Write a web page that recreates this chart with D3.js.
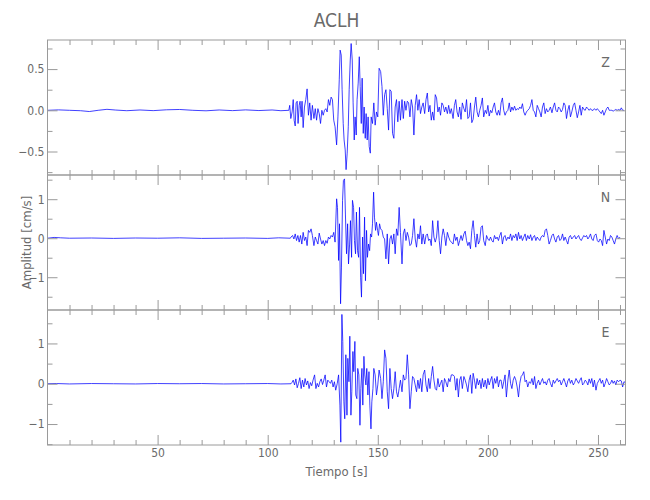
<!DOCTYPE html>
<html><head><meta charset="utf-8">
<script src="https://cdn.jsdelivr.net/npm/d3@7"></script>
<style>
body{margin:0;background:#fff;}
svg text{font-family:"Liberation Sans Narrow","DejaVu Sans Condensed","Liberation Sans",sans-serif;fill:#6a6a6a;}
</style></head><body>
<svg id="chart" width="650" height="500"></svg>
<script>
const title = "ACLH";
const xLabel = "Tiempo [s]";
const yLabel = "Amplitud [cm/s]";
const components = ["Z", "N", "E"];
const xDomain = [0, 262.5];
const xMajorTicks = [50, 100, 150, 200, 250];
const xMinorTicks = [10, 20, 30, 40, 60, 70, 80, 90, 110, 120, 130, 140, 160, 170, 180, 190, 210, 220, 230, 240, 260];
const yDomains = [[-0.785, 0.853], [-1.84, 1.62], [-1.52, 1.83]];
const yMajorTicks = [[-0.5, 0, 0.5], [-1, 0, 1], [-1, 0, 1]];
const yMajorLabels = [["\u22120.5", "0.0", "0.5"], ["\u22121", "0", "1"], ["\u22121", "0", "1"]];
const yMinorTicks = [[-0.75, -0.25, 0.25, 0.75], [-1.5, -0.5, 0.5, 1.5], [-1.5, -0.5, 0.5, 1.5]];

// Z component: [time s, amplitude cm/s]
const traceZ = [
[0,0],[5,0.005],[10,0],[15,-0.005],[19,-0.015],[23,0],[27,0.012],[31,0.003],[36,-0.005],[42,0.004],[48,-0.004],[54,0.006],[60,0.01],[66,0],[72,-0.006],[78,0.004],[84,-0.004],[90,0.005],[96,-0.003],[102,0.004],[106,-0.005],[109.6,0],
[110.0,0.06],[110.5,-0.10],[111.1,-0.02],[111.6,0.13],[112.0,-0.12],[112.5,-0.19],[112.9,0.09],[113.4,0.11],[113.8,-0.16],[114.3,0.06],[114.7,0.11],[115.2,-0.08],[115.6,0.11],[116.1,-0.21],[116.7,0.04],[117.3,0.13],[117.9,0.26],[118.5,-0.06],[119.1,0.09],[119.7,-0.12],[120.3,0.06],[121.0,-0.10],[121.6,0.02],[122.2,-0.12],[122.8,0.02],[123.4,-0.04],[124.0,-0.16],[124.6,0.00],[125.2,-0.06],[125.8,0.00],[126.4,0.02],[127.0,-0.02],[127.6,0.13],[128.2,0.06],[128.8,0.16],[129.4,0.13],[130.0,-0.12],[130.6,-0.20],[131.3,-0.42],[131.9,-0.08],[132.5,0.37],[132.9,0.73],[133.4,0.67],[133.8,0.25],[134.3,-0.16],[134.7,-0.36],[135.2,-0.48],[135.6,-0.72],[136.1,-0.52],[136.6,-0.20],[137.0,0.25],[137.5,0.61],[137.9,0.81],[138.4,0.61],[138.8,0.09],[139.3,-0.36],[139.7,-0.08],[140.2,-0.30],[140.6,0.13],[141.1,0.33],[141.6,0.65],[142.0,0.29],[142.5,-0.16],[142.9,0.39],[143.4,-0.28],[143.8,0.04],[144.3,-0.34],[144.7,-0.04],[145.2,-0.36],[145.6,-0.08],[146.1,-0.44],[146.6,-0.52],[147.0,-0.08],[147.6,-0.16],[148.2,0.09],[148.8,-0.18],[149.4,-0.02],[150.0,-0.08],[150.6,0.51],[151.3,0.47],[151.9,0.29],[152.5,-0.06],[153.1,0.19],[153.7,0.25],[154.3,0.02],[154.9,-0.24],[155.5,0.25],[156.1,0.23],[156.7,-0.28],[157.3,-0.34],[157.9,0.04],[158.5,0.13],[159.1,-0.14],[159.7,0.11],[160.3,-0.12],[161.0,0.13],[161.6,-0.10],[162.2,0.11],[162.8,0.00],[163.4,0.11],[164.0,0.09],[164.6,-0.08],[165.2,0.13],[165.8,0.04],[166.4,-0.30],[167.0,0.06],[167.6,0.19],[168.2,0.00],[168.8,0.13],[169.4,-0.04],[170.0,0.04],[170.6,0.09],[171.3,-0.04],[171.9,0.13],[172.5,0.21],[173.1,-0.02],[173.7,0.06],[174.3,-0.12],[174.9,-0.02],[175.5,-0.12],[176.1,0.19],[176.7,0.15],[177.3,-0.02],[177.9,0.04],[178.5,-0.06],[179.1,0.09],[179.7,0.06],[180.3,-0.02],[180.9,0.04],[181.6,-0.04],[182.2,0.06],[182.8,-0.04],[183.4,0.02],
[184.2,-0.10],[184.8,0.06],[185.4,0.13],[186.0,-0.02],[186.6,-0.08],[187.2,0.04],[187.8,-0.11],[188.4,0.09],[189.1,0.02],[189.7,-0.02],[190.3,0.13],[190.9,-0.10],[191.5,-0.08],[192.1,0.09],[192.7,-0.15],[193.3,-0.11],[193.9,0.04],[194.5,0.16],[195.1,-0.02],[195.7,-0.08],[196.3,0.00],[196.9,0.06],[197.5,0.15],[198.1,-0.08],[198.8,0.00],[199.4,-0.04],[200.0,0.06],[200.6,-0.07],[201.2,0.00],[201.8,-0.03],[202.4,0.04],[203.0,0.09],[203.6,-0.02],[204.2,-0.06],[204.8,0.00],[205.4,-0.06],[206.0,0.09],[206.6,0.15],[207.2,0.00],[207.8,-0.06],[208.4,-0.02],[209.1,0.00],[209.7,0.09],[210.3,-0.02],[210.9,0.04],[211.5,0.00],[212.1,0.05],[212.7,0.00],[213.3,0.02],[213.9,0.01],[214.5,0.04],[215.1,0.02],[215.7,0.08],[216.3,-0.02],[216.9,-0.06],[217.5,-0.02],[218.1,0.00],[218.8,0.02],[219.4,0.06],[220.0,0.13],[220.6,0.00],[221.2,-0.02],[221.8,-0.08],[222.4,0.06],[223.0,0.02],[223.6,-0.02],[224.2,-0.08],[224.8,0.04],[225.4,0.09],[226.0,-0.04],[226.6,0.02],[227.2,-0.02],[227.8,0.00],[228.4,0.04],[229.1,-0.03],[229.7,0.04],[230.3,0.09],[230.9,0.00],[231.5,-0.02],[232.1,0.04],[232.7,0.02],[233.3,-0.02],[233.9,0.01],[234.5,0.09],[235.1,0.06],[235.7,-0.10],[236.3,0.00],[236.9,0.06],[237.5,-0.08],[238.1,-0.02],[238.8,0.06],[239.4,0.09],[240.0,0.00],[240.6,-0.09],[241.2,-0.02],[241.8,0.06],[242.4,-0.06],[243.0,0.04],[243.6,0.01],[244.2,0.00],[244.8,0.04],[245.4,0.02],[246.0,0.00],[246.6,0.02],[247.2,0.00],[247.8,0.00],[248.4,0.02],[249.1,0.00],[249.7,0.02],[250.3,0.00],[250.9,-0.02],[251.5,-0.04],[252.1,0.00],[252.7,-0.06],[253.3,-0.02],[253.9,0.02],[254.5,0.04],[255.1,0.00],[255.7,0.00],[256.3,0.00],[256.9,-0.01],[257.5,0.00],[258.1,0.01],[258.7,0.00],[259.4,0.01],[260.0,0.00],[260.6,0.03],[261.2,0.00],[261.8,0.00]
];

// N component
const traceN = [
[0,0],[3,0.02],[6,0.01],[10,0],[20,0.005],[30,-0.005],[40,0.005],[50,0],[60,0.01],[70,-0.005],[80,0],[90,0.005],[100,-0.005],[105,0.01],[110.3,0],
[110.6,0.03],[111.3,0.07],[111.9,-0.02],[112.5,0.11],[113.1,-0.06],[113.7,0.07],[114.3,-0.10],[114.9,0.07],[115.5,-0.15],[116.1,0.15],[116.7,-0.06],[117.3,0.03],[117.9,-0.19],[118.5,0.20],[119.1,0.15],[119.7,0.24],[120.3,0.07],[121.0,-0.19],[121.6,0.03],[122.2,-0.06],[122.8,-0.15],[123.4,0.13],[124.0,-0.02],[124.6,-0.15],[125.2,-0.06],[125.8,-0.19],[126.4,-0.06],[127.0,-0.13],[127.6,0.03],[128.2,-0.02],[128.8,0.07],[129.4,0.03],[130.0,0.15],[130.6,-0.10],[131.3,1.01],[131.7,0.79],[132.2,-0.57],[132.6,0.37],[133.1,-1.68],[133.5,-0.74],[134.0,0.97],[134.4,1.48],[134.9,1.52],[135.3,0.62],[135.8,-0.40],[136.3,0.37],[136.7,-0.66],[137.2,-0.15],[137.6,0.45],[138.1,-0.49],[138.5,0.97],[139.0,0.79],[139.4,-0.06],[139.9,-0.40],[140.3,0.67],[140.8,-0.32],[141.3,-0.49],[141.7,0.79],[142.2,-1.00],[142.6,-1.51],[143.1,0.03],[143.5,-0.91],[144.0,0.54],[144.4,-1.09],[144.9,0.20],[145.3,-0.49],[145.8,-0.15],[146.3,-0.32],[146.7,0.11],[147.2,0.03],[147.6,0.37],[148.1,1.18],[148.5,0.54],[149.0,0.20],[149.4,0.41],[149.9,0.20],[150.3,0.07],[150.8,0.37],[151.3,0.24],[151.9,0.20],[152.5,0.03],[153.1,-0.02],[153.7,-0.53],[154.3,0.11],[154.9,-0.66],[155.5,-0.02],[156.1,0.07],[156.7,-0.15],[157.3,0.11],[157.9,-0.40],[158.5,0.24],[159.1,0.07],[159.7,0.79],[160.3,0.15],[161.0,-0.66],[161.6,0.11],[162.2,0.24],[162.8,-0.06],[163.4,0.15],[164.0,0.03],[164.6,-0.19],[165.2,-0.15],[165.8,0.07],[166.4,0.50],[167.0,-0.02],[167.6,-0.23],[168.2,0.11],[168.8,-0.02],[169.4,0.32],[170.0,-0.15],[170.6,0.11],[171.3,-0.15],[171.9,0.07],[172.5,0.11],[173.1,-0.06],[173.7,-0.02],[174.3,-0.19],[174.9,0.45],[175.5,0.03],[176.1,-0.10],[176.7,0.03],[177.3,0.45],[177.9,-0.06],[178.5,-0.40],[179.1,0.03],[179.7,0.24],[180.3,0.07],[180.9,-0.19],[181.6,0.15],[182.2,0.03],[182.8,-0.06],[183.4,-0.10],
[184.2,-0.15],[184.8,0.11],[185.4,-0.06],[186.0,0.03],[186.6,-0.19],[187.2,-0.06],[187.8,0.07],[188.4,-0.06],[189.1,0.11],[189.7,0.18],[190.3,-0.06],[190.9,-0.19],[191.5,-0.10],[192.1,-0.27],[192.7,0.20],[193.3,0.45],[193.9,0.07],[194.5,-0.23],[195.1,0.11],[195.7,-0.15],[196.3,-0.06],[196.9,0.28],[197.5,0.32],[198.1,-0.06],[198.8,-0.19],[199.4,0.07],[200.0,-0.02],[200.6,-0.06],[201.2,0.03],[201.8,-0.06],[202.4,-0.10],[203.0,0.07],[203.6,-0.02],[204.2,0.03],[204.8,-0.06],[205.4,0.07],[206.0,0.15],[206.6,-0.15],[207.2,0.03],[207.8,0.07],[208.4,-0.06],[209.1,0.03],[209.7,-0.02],[210.3,0.11],[210.9,-0.06],[211.5,0.07],[212.1,0.01],[212.7,0.11],[213.3,-0.06],[213.9,0.15],[214.5,-0.02],[215.1,0.07],[215.7,-0.06],[216.3,0.03],[216.9,0.11],[217.5,-0.06],[218.1,0.07],[218.8,-0.02],[219.4,0.09],[220.0,-0.06],[220.6,0.03],[221.2,0.07],[221.8,-0.06],[222.4,0.03],[223.0,-0.02],[223.6,-0.06],[224.2,0.03],[224.8,0.07],[225.4,0.03],[226.0,0.20],[226.6,0.24],[227.2,0.07],[227.8,-0.15],[228.4,-0.06],[229.1,0.07],[229.7,0.11],[230.3,-0.02],[230.9,-0.10],[231.5,0.03],[232.1,0.07],[232.7,-0.06],[233.3,-0.02],[233.9,0.11],[234.5,-0.06],[235.1,0.03],[235.7,-0.06],[236.3,-0.15],[236.9,0.03],[237.5,0.07],[238.1,-0.02],[238.8,0.03],[239.4,0.07],[240.0,-0.02],[240.6,0.03],[241.2,0.07],[241.8,-0.02],[242.4,-0.06],[243.0,0.01],[243.6,0.07],[244.2,0.03],[244.8,0.07],[245.4,-0.02],[246.0,0.03],[246.6,0.11],[247.2,-0.02],[247.8,-0.06],[248.4,0.07],[249.1,0.11],[249.7,-0.06],[250.3,-0.10],[250.9,-0.02],[251.5,-0.06],[252.1,-0.19],[252.7,0.20],[253.3,0.03],[253.9,-0.15],[254.5,-0.02],[255.1,-0.06],[255.7,0.07],[256.3,0.03],[256.9,-0.06],[257.5,-0.15],[258.1,-0.02],[258.7,0.07],[259.4,-0.02],[260.0,0.03]
];

// E component
const traceE = [
[0,0],[4,0.005],[10,-0.005],[20,0.005],[30,0],[40,-0.005],[50,0.005],[60,0],[70,0.005],[80,-0.005],[90,0],[100,0.005],[106,-0.005],[110.6,0],
[111.0,0.03],[111.6,0.09],[112.2,-0.03],[112.8,0.12],[113.4,-0.10],[114.0,0.01],[114.6,0.15],[115.2,-0.12],[115.8,0.09],[116.4,-0.08],[117.0,0.13],[117.6,-0.03],[118.2,0.07],[118.8,-0.12],[119.4,0.03],[120.0,-0.05],[120.6,0.09],[121.3,0.22],[121.9,-0.12],[122.5,0.01],[123.1,-0.08],[123.7,0.05],[124.3,0.12],[124.9,-0.02],[125.5,0.09],[126.1,0.22],[126.7,-0.08],[127.3,0.09],[127.9,0.05],[128.5,0.01],[129.1,0.09],[129.7,-0.08],[130.3,0.05],[130.9,-0.16],[131.6,0.01],[132.2,0.22],[132.8,-0.53],[133.2,-1.45],[133.7,1.72],[134.1,1.05],[134.6,-0.45],[135.0,-0.87],[135.5,0.72],[136.0,-0.78],[136.4,0.63],[136.9,0.05],[137.3,1.18],[137.8,-0.78],[138.2,-0.20],[138.7,0.80],[139.1,0.30],[139.6,1.05],[140.0,-0.28],[140.5,-0.37],[140.9,0.38],[141.4,0.22],[141.9,-1.03],[142.3,-0.12],[142.8,0.38],[143.2,-0.53],[143.7,0.68],[144.1,0.22],[144.6,-0.03],[145.0,0.38],[145.5,-0.28],[146.0,0.30],[146.4,-0.53],[146.9,-1.12],[147.3,-0.45],[147.8,-0.12],[148.2,0.38],[148.8,0.22],[149.4,-0.28],[150.0,-0.03],[150.6,0.34],[151.3,0.13],[151.9,-0.37],[152.5,0.05],[153.1,0.84],[153.7,0.63],[154.3,-0.20],[154.9,-0.62],[155.5,0.38],[156.1,-0.12],[156.7,-0.37],[157.3,-0.12],[157.9,0.30],[158.5,-0.20],[159.1,-0.33],[159.7,-0.12],[160.3,0.09],[161.0,-0.20],[161.6,0.22],[162.2,0.09],[162.8,0.13],[163.4,0.72],[164.0,0.22],[164.6,-0.62],[165.2,-0.20],[165.8,0.18],[166.4,0.13],[167.0,-0.03],[167.6,-0.20],[168.2,0.09],[168.8,-0.12],[169.4,0.13],[170.0,-0.20],[170.6,0.22],[171.3,0.34],[171.9,-0.03],[172.5,-0.20],[173.1,0.13],[173.7,-0.12],[174.3,0.18],[174.9,0.43],[175.5,0.09],[176.1,-0.12],[176.7,-0.16],[177.3,0.13],[177.9,-0.08],[178.5,0.01],[179.1,0.09],[179.7,-0.20],[180.3,0.13],[180.9,0.05],[181.6,-0.08],[182.2,0.13],[182.8,0.05],[183.4,0.22],
[184.2,0.22],[184.8,0.18],[185.4,-0.16],[186.0,0.13],[186.6,-0.33],[187.2,0.09],[187.8,0.18],[188.4,-0.12],[189.1,0.18],[189.7,0.09],[190.3,-0.03],[190.9,-0.20],[191.5,0.09],[192.1,0.22],[192.7,-0.24],[193.3,0.26],[193.9,0.09],[194.5,-0.12],[195.1,0.13],[195.7,-0.03],[196.3,0.09],[196.9,-0.12],[197.5,0.13],[198.1,-0.08],[198.8,0.09],[199.4,-0.12],[200.0,0.13],[200.6,-0.03],[201.2,0.09],[201.8,0.18],[202.4,-0.12],[203.0,0.13],[203.6,0.01],[204.2,0.18],[204.8,-0.08],[205.4,0.09],[206.0,0.09],[206.6,-0.12],[207.2,0.05],[207.8,0.22],[208.4,-0.33],[209.1,0.09],[209.7,0.34],[210.3,0.01],[210.9,-0.12],[211.5,0.09],[212.1,0.18],[212.7,0.09],[213.3,-0.08],[213.9,-0.33],[214.5,0.01],[215.1,0.18],[215.7,0.22],[216.3,0.30],[216.9,0.05],[217.5,0.09],[218.1,-0.08],[218.8,0.05],[219.4,0.01],[220.0,0.13],[220.6,-0.03],[221.2,0.18],[221.8,-0.12],[222.4,0.01],[223.0,0.09],[223.6,-0.03],[224.2,0.05],[224.8,0.13],[225.4,0.01],[226.0,0.05],[226.6,-0.03],[227.2,0.09],[227.8,0.13],[228.4,0.01],[229.1,-0.08],[229.7,0.09],[230.3,0.01],[230.9,0.07],[231.5,0.13],[232.1,0.05],[232.7,0.09],[233.3,-0.03],[233.9,0.05],[234.5,0.13],[235.1,0.03],[235.7,-0.08],[236.3,0.07],[236.9,0.13],[237.5,0.01],[238.1,0.09],[238.8,-0.03],[239.4,0.03],[240.0,0.13],[240.6,0.07],[241.2,0.01],[241.8,0.09],[242.4,0.15],[243.0,-0.03],[243.6,0.01],[244.2,0.09],[244.8,0.05],[245.4,-0.03],[246.0,0.12],[246.6,0.01],[247.2,0.13],[247.8,-0.08],[248.4,0.09],[249.1,-0.16],[249.7,0.01],[250.3,0.07],[250.9,0.13],[251.5,0.01],[252.1,0.09],[252.7,-0.08],[253.3,0.01],[253.9,0.13],[254.5,0.05],[255.1,-0.03],[255.7,0.01],[256.3,0.09],[256.9,0.01],[257.5,0.07],[258.1,-0.03],[258.7,0.09],[259.4,0.05],[260.0,0.09],[260.6,0.07],[261.2,-0.08],[261.8,0.05],[262.4,0.03]
];

const traces = [traceZ, traceN, traceE];

const svg = d3.select("#chart");
svg.append("rect").attr("width", 650).attr("height", 500).attr("fill", "#fff");

const left = 47.5, right = 625.5;
const panelTops = [40, 175, 310];
const panelH = 135;
const axisColor = "#9a9a9a";
const x = d3.scaleLinear().domain(xDomain).range([left, right]);

svg.append("text").attr("x", (left + right) / 2).attr("y", 27)
  .attr("text-anchor", "middle").attr("font-size", 19).text(title);

components.forEach((c, i) => {
  const top = panelTops[i], bottom = top + panelH;
  const y = d3.scaleLinear().domain(yDomains[i]).range([bottom, top]);
  const g = svg.append("g");

  const clipId = "clip" + i;
  g.append("clipPath").attr("id", clipId).append("rect")
    .attr("x", left).attr("y", top).attr("width", right - left).attr("height", panelH);

  const line = d3.line().x(d => x(d[0])).y(d => y(d[1]));
  g.append("path").datum(traces[i]).attr("clip-path", `url(#${clipId})`)
    .attr("fill", "none").attr("stroke", "#0000ff").attr("stroke-width", 0.75)
    .attr("stroke-linejoin", "round").attr("d", line);

  function styleAxis(sel) {
    sel.select(".domain").remove();
    sel.selectAll(".tick line").attr("stroke", axisColor);
    sel.selectAll(".tick text").attr("fill", "#6a6a6a").attr("font-size", 12)
      .style("font-family", '"Liberation Sans Narrow","DejaVu Sans Condensed","Liberation Sans",sans-serif');
  }

  // Y axes
  g.append("g").attr("transform", `translate(${left},0)`)
    .call(d3.axisLeft(y).tickValues(yMajorTicks[i]).tickSize(-10).tickPadding(3)
      .tickFormat((d, k) => yMajorLabels[i][k])).call(styleAxis);
  g.append("g").attr("transform", `translate(${left},0)`)
    .call(d3.axisLeft(y).tickValues(yMinorTicks[i]).tickSize(-5).tickFormat("")).call(styleAxis);
  g.append("g").attr("transform", `translate(${right},0)`)
    .call(d3.axisRight(y).tickValues(yMajorTicks[i]).tickSize(-10).tickFormat("")).call(styleAxis);
  g.append("g").attr("transform", `translate(${right},0)`)
    .call(d3.axisRight(y).tickValues(yMinorTicks[i]).tickSize(-5).tickFormat("")).call(styleAxis);

  // X axes
  g.append("g").attr("transform", `translate(0,${top})`)
    .call(d3.axisTop(x).tickValues(xMajorTicks).tickSize(-10).tickFormat("")).call(styleAxis);
  g.append("g").attr("transform", `translate(0,${top})`)
    .call(d3.axisTop(x).tickValues(xMinorTicks).tickSize(-5).tickFormat("")).call(styleAxis);
  g.append("g").attr("transform", `translate(0,${bottom})`)
    .call(d3.axisBottom(x).tickValues(xMajorTicks).tickSize(-10).tickPadding(3)
      .tickFormat(i === 2 ? d3.format("d") : "")).call(styleAxis);
  g.append("g").attr("transform", `translate(0,${bottom})`)
    .call(d3.axisBottom(x).tickValues(xMinorTicks).tickSize(-5).tickFormat("")).call(styleAxis);

  // frame
  g.append("rect").attr("x", left).attr("y", top).attr("width", right - left).attr("height", panelH)
    .attr("fill", "none").attr("stroke", axisColor).attr("stroke-width", 1);

  g.append("text").attr("x", right - 20).attr("y", top + 27)
    .attr("text-anchor", "middle").attr("font-size", 14).text(c);
});

svg.append("text").attr("x", (left + right) / 2).attr("y", 476)
  .attr("text-anchor", "middle").attr("font-size", 13).text(xLabel);
svg.append("text").attr("transform", `translate(31,${panelTops[1] + panelH / 2}) rotate(-90)`)
  .attr("text-anchor", "middle").attr("font-size", 13).text(yLabel);
</script>
</body></html>
